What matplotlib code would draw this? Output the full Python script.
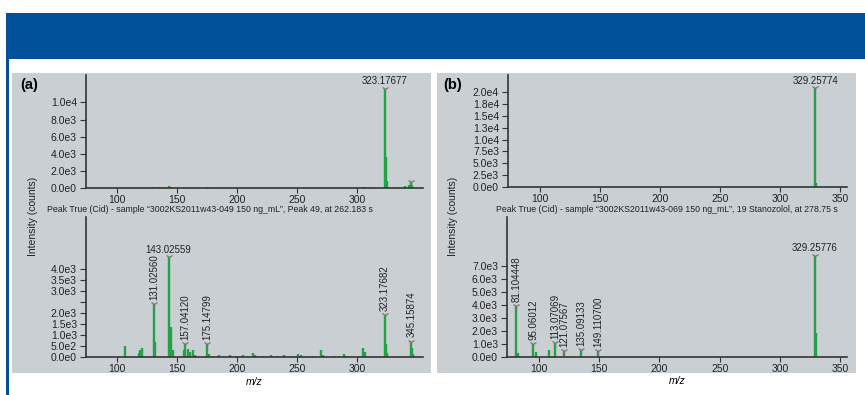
import matplotlib
matplotlib.use("Agg")
import matplotlib.pyplot as plt
from matplotlib.patches import Rectangle

W, H = 865, 395
plt.rcParams['font.family'] = ['Liberation Sans', 'DejaVu Sans']

# ---- data ----
# panel (a), upper spectrum
a_top_mz = [131, 135, 139, 143, 145, 175, 305, 307, 323.17677, 324.18, 325.18, 340, 343, 345.16, 346.16]
a_top_int = [150, 200, 200, 300, 150, 100, 200, 150, 11570, 3700, 800, 300, 400, 700, 400]
a_top_marks = [323.17677, 345.16]
a_top_marks_int = [11570, 700]

# panel (a), lower spectrum
a_low_mz = [106.3, 118, 119.5, 121, 131.0256, 132, 143.02559, 144.7, 146.5, 155.5, 157.0412, 159, 161,
            163, 165, 175.14799, 177, 185, 194.5, 199, 205, 213, 215, 222, 228, 233, 239, 245, 251,
            253, 263, 270, 272, 281, 289.5, 291, 305, 306.5, 323.17682, 324.2, 325.2, 345.15874,
            346.2, 347]
a_low_int = [500, 200, 300, 400, 2400, 700, 4550, 1350, 300, 300, 590, 350, 250,
             300, 100, 590, 150, 80, 100, 60, 80, 200, 100, 60, 80, 60, 80, 60, 150,
             80, 60, 300, 80, 60, 120, 60, 420, 250, 1920, 600, 200, 700,
             400, 150]
a_low_lab_mz = [131.0256, 157.0412, 175.14799, 323.17682, 345.15874]
a_low_lab_int = [2400, 590, 590, 1920, 700]
a_low_lab_txt = ['131.02560', '157.04120', '175.14799', '323.17682', '345.15874']

# panel (b), upper spectrum
b_top_mz = [329.25774, 330.26]
b_top_int = [20700, 900]

# panel (b), lower spectrum
b_low_mz = [81.104448, 82.1, 95.06012, 97.5, 108, 113.07069, 121.07567, 135.09133, 149.1107,
            329.25776, 330.26]
b_low_int = [3910, 300, 980, 390, 520, 1030, 460, 520, 460, 7770, 1800]
b_low_lab_mz = [81.104448, 95.06012, 113.07069, 121.07567, 135.09133, 149.1107]
b_low_lab_int = [3910, 980, 1030, 460, 520, 460]
b_low_lab_txt = ['81.104448', '95.06012', '113.07069', '121.07567', '135.09133', '149.110700']

# axis ticks
a_top_yticks = [0, 2000, 4000, 6000, 8000, 10000]
a_top_ylabels = ['0.0e0', '2.0e3', '4.0e3', '6.0e3', '8.0e3', '1.0e4']
a_low_yticks = [0, 500, 1000, 1500, 2000, 2500, 3000, 3500, 4000]
a_low_ylabels = ['0.0e0', '5.0e2', '1.0e3', '1.5e3', '2.0e3', '', '3.0e3', '3.5e3', '4.0e3']
b_top_yticks = [0, 2500, 5000, 7500, 10000, 12500, 15000, 17500, 20000]
b_top_ylabels = ['0.0e0', '2.5e3', '5.0e3', '7.5e3', '1.0e4', '1.3e4', '1.5e4', '1.8e4', '2.0e4']
b_low_yticks = [0, 1000, 2000, 3000, 4000, 5000, 6000, 7000]
b_low_ylabels = ['0.0e0', '1.0e3', '2.0e3', '3.0e3', '4.0e3', '5.0e3', '6.0e3', '7.0e3']
a_xticks = [100, 150, 200, 250, 300]
b_xticks = [100, 150, 200, 250, 300, 350]

sub_a = 'Peak True (Cid) - sample \u201c3002KS2011w43-049 150 ng_mL\u201d, Peak 49, at 262.183 s'
sub_b = 'Peak True (Cid) - sample \u201c3002KS2011w43-069 150 ng_mL\u201d, 19 Stanozolol, at 278.75 s'

GREEN = '#24a046'
PANEL = '#c9cfd3'
BLUE = '#01519a'
DARK = '#333333'


def box(l, t, r, b):
    return [l / W, 1 - b / H, (r - l) / W, (b - t) / H]


def setup(ax, xlim, ylim, xticks, yticks, ylabels):
    ax.set_facecolor('none')
    ax.set_xlim(*xlim)
    ax.set_ylim(*ylim)
    for s in ['top', 'right']:
        ax.spines[s].set_visible(False)
    for s in ['left', 'bottom']:
        ax.spines[s].set_color(DARK)
        ax.spines[s].set_linewidth(1.2)
    ax.set_xticks(xticks)
    ax.set_xticklabels([str(t) for t in xticks])
    ax.set_yticks(yticks)
    ax.set_yticklabels(ylabels)
    ax.tick_params(axis='both', length=4.5, width=0.8, color=DARK, labelsize=7.5, pad=2,
                   labelcolor='#222222')
    ax.tick_params(axis='x', length=3.5, pad=1.5)


def marks(ax, mz, inten, texts=None, vertical=True):
    ax.plot(mz, inten, ls='none', marker='1', color='#777777', ms=5, mew=0.9, clip_on=False)
    if texts is None:
        return
    for x, y, t in zip(mz, inten, texts):
        if vertical:
            ax.annotate(t, (x, y), xytext=(0, 3), textcoords='offset points',
                        rotation=90, ha='center', va='bottom', fontsize=7, color='#222222')
        else:
            ax.annotate(t, (x, y), xytext=(0, 2), textcoords='offset points',
                        ha='center', va='bottom', fontsize=7, color='#222222')


fig = plt.figure(figsize=(W / 100, H / 100), dpi=100)
fig.patch.set_facecolor('white')

# banner, left border and grey panels (drawn behind the axes)
bg = fig.add_axes([0, 0, 1, 1], zorder=-5)
bg.set_xlim(0, W)
bg.set_ylim(H, 0)
bg.axis('off')
bg.add_patch(Rectangle((6, 13), W, 46, color=BLUE, lw=0))
bg.add_patch(Rectangle((6, 59), 2.5, H, color=BLUE, lw=0))
bg.add_patch(Rectangle((12, 73), 419, 300, color=PANEL, lw=0))
bg.add_patch(Rectangle((437, 73), 419, 300, color=PANEL, lw=0))

# panel (a)
ax1 = fig.add_axes(box(86, 75, 423, 188.3))
ax1.vlines(a_top_mz, 0, a_top_int, color=GREEN, lw=1.7)
setup(ax1, (74.2, 355), (0, 13200), a_xticks, a_top_yticks, a_top_ylabels)
marks(ax1, a_top_mz[8:9], a_top_int[8:9], ['323.17677'], vertical=False)
marks(ax1, a_top_marks[1:], a_top_marks_int[1:])

ax2 = fig.add_axes(box(86, 217, 423, 357))
ax2.vlines(a_low_mz, 0, a_low_int, color=GREEN, lw=1.7)
setup(ax2, (74.2, 355), (0, 6390), a_xticks, a_low_yticks, a_low_ylabels)
marks(ax2, a_low_lab_mz, a_low_lab_int, a_low_lab_txt)
marks(ax2, [143.02559], [4550], ['143.02559'], vertical=False)
ax2.set_xlabel('m/z', fontsize=7.5, style='italic', labelpad=2)

fig.text(210 / W, 1 - 210 / H, sub_a, ha='center', va='center', fontsize=6.3, color='#222222')
fig.text(20 / W, 1 - 85 / H, '(a)', ha='left', va='center', fontsize=10.5, fontweight='bold')
fig.text(33 / W, 1 - 216 / H, 'Intensity (counts)', rotation=90, ha='center', va='center',
         fontsize=7.5, color='#222222')

# panel (b)
ax3 = fig.add_axes(box(508, 75, 847, 187.3))
ax3.vlines(b_top_mz, 0, b_top_int, color=GREEN, lw=1.7)
setup(ax3, (73.3, 355.8), (0, 23500), b_xticks, b_top_yticks, b_top_ylabels)
marks(ax3, b_top_mz[:1], b_top_int[:1], ['329.25774'], vertical=False)

ax4 = fig.add_axes(box(507, 217, 847, 356.7))
ax4.vlines(b_low_mz, 0, b_low_int, color=GREEN, lw=1.7)
setup(ax4, (73.3, 355.8), (0, 10780), b_xticks, b_low_yticks, b_low_ylabels)
marks(ax4, b_low_lab_mz, b_low_lab_int, b_low_lab_txt)
marks(ax4, [329.25776], [7770], ['329.25776'], vertical=False)
ax4.set_xlabel('m/z', fontsize=7.5, style='italic', labelpad=2)

fig.text(667 / W, 1 - 210 / H, sub_b, ha='center', va='center', fontsize=6.3, color='#222222')
fig.text(443 / W, 1 - 85 / H, '(b)', ha='left', va='center', fontsize=10.5, fontweight='bold')
fig.text(453 / W, 1 - 216 / H, 'Intensity (counts)', rotation=90, ha='center', va='center',
         fontsize=7.5, color='#222222')

fig.savefig('out.png', dpi=100)
